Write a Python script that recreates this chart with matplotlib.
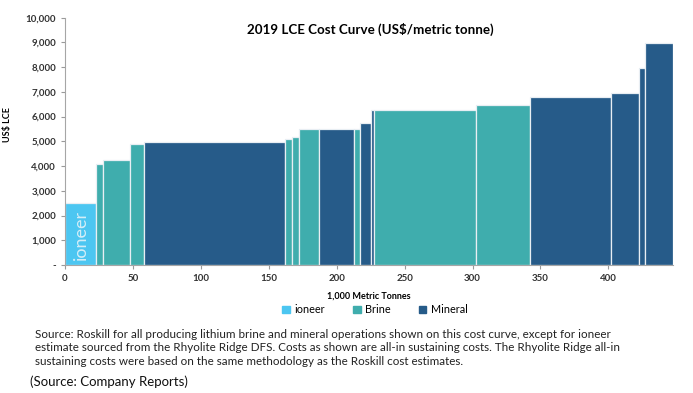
import matplotlib
matplotlib.use('Agg')
import matplotlib.pyplot as plt
from matplotlib.patches import Patch

plt.rcParams['font.family'] = ['Lato', 'DejaVu Sans']

# capacity per operation (1,000 t LCE) and all-in sustaining cost (US$/t)
capacity = [23.0, 4.9, 19.7, 10.4, 103.7, 5.6, 4.9, 14.8, 25.6, 4.9, 7.8, 2.1,
            75.0, 39.6, 60.1, 20.7, 3.9, 20.7]
cost = [2520, 4100, 4230, 4890, 4960, 5080, 5190, 5490, 5490, 5490, 5730, 6250,
        6250, 6460, 6780, 6970, 7980, 8970]
kind = ['ioneer', 'Brine', 'Brine', 'Brine', 'Mineral', 'Brine', 'Brine', 'Brine',
        'Mineral', 'Brine', 'Mineral', 'Mineral', 'Brine', 'Brine', 'Mineral',
        'Mineral', 'Mineral', 'Mineral']
categories = ['ioneer', 'Brine', 'Mineral']
colors = {'ioneer': '#4CC6F1', 'Brine': '#3FADAD', 'Mineral': '#265B89'}

yticks = list(range(0, 10001, 1000))
ytick_labels = ['-'] + ['{:,}'.format(v) for v in yticks[1:]]
xticks = list(range(0, 401, 50))

note = ("Source: Roskill for all producing lithium brine and mineral operations shown on this cost curve, except for ioneer\n"
        "estimate sourced from the Rhyolite Ridge DFS. Costs as shown are all-in sustaining costs. The Rhyolite Ridge all-in\n"
        "sustaining costs were based on the same methodology as the Roskill cost estimates.")

fig = plt.figure(figsize=(6.93, 3.93), dpi=100)
ax = fig.add_axes([0.0938, 0.3257, 0.877, 0.6293])

left = 0
lefts = []
for w in capacity:
    lefts.append(left)
    left += w
ax.bar(lefts, cost, width=capacity, align='edge',
       color=[colors[k] for k in kind], edgecolor='#e8eef3', linewidth=0.9)

ax.text(capacity[0] / 2, 1200, 'ioneer', rotation=90, ha='center', va='center',
        color='#d4eef8', fontsize=13, fontweight='normal')

ax.set_xlim(0, sum(capacity))
ax.set_ylim(0, 10000)
ax.set_yticks(yticks)
ax.set_yticklabels(ytick_labels)
ax.set_xticks(xticks)
ax.tick_params(labelsize=7, colors='#9a9a9a', labelcolor='#333333', length=3)
for t in ax.get_xticklabels() + ax.get_yticklabels():
    t.set_fontweight('bold')
for s in ['top', 'right']:
    ax.spines[s].set_visible(False)
for s in ['left', 'bottom']:
    ax.spines[s].set_color('#a6a6a6')

ax.set_xlabel('1,000 Metric Tonnes', fontsize=6.5, fontweight='bold', labelpad=6)
ax.set_ylabel('US$ LCE', fontsize=6.5, fontweight='bold')
ax.yaxis.set_label_coords(-0.087, 0.566)

fig.text(0.535, 0.924, '2019 LCE Cost Curve (US$/metric tonne)', ha='center',
         va='center', fontsize=9.6, fontweight='bold')

handles = [Patch(color=colors[c], label=c) for c in categories]
fig.legend(handles=handles, loc='center', bbox_to_anchor=(0.541, 0.212), ncol=3,
           frameon=False, fontsize=7.8, handlelength=0.7, handleheight=0.7,
           handletextpad=0.4, columnspacing=2.6)

fig.text(0.05, 0.115, note, ha='left', va='center', fontsize=8.4, linespacing=1.25,
         color='#222222')
fig.text(0.043, 0.028, '(Source: Company Reports)', ha='left', va='center',
         fontsize=9.5, color='#111111')

fig.savefig('out.png', dpi=100)
